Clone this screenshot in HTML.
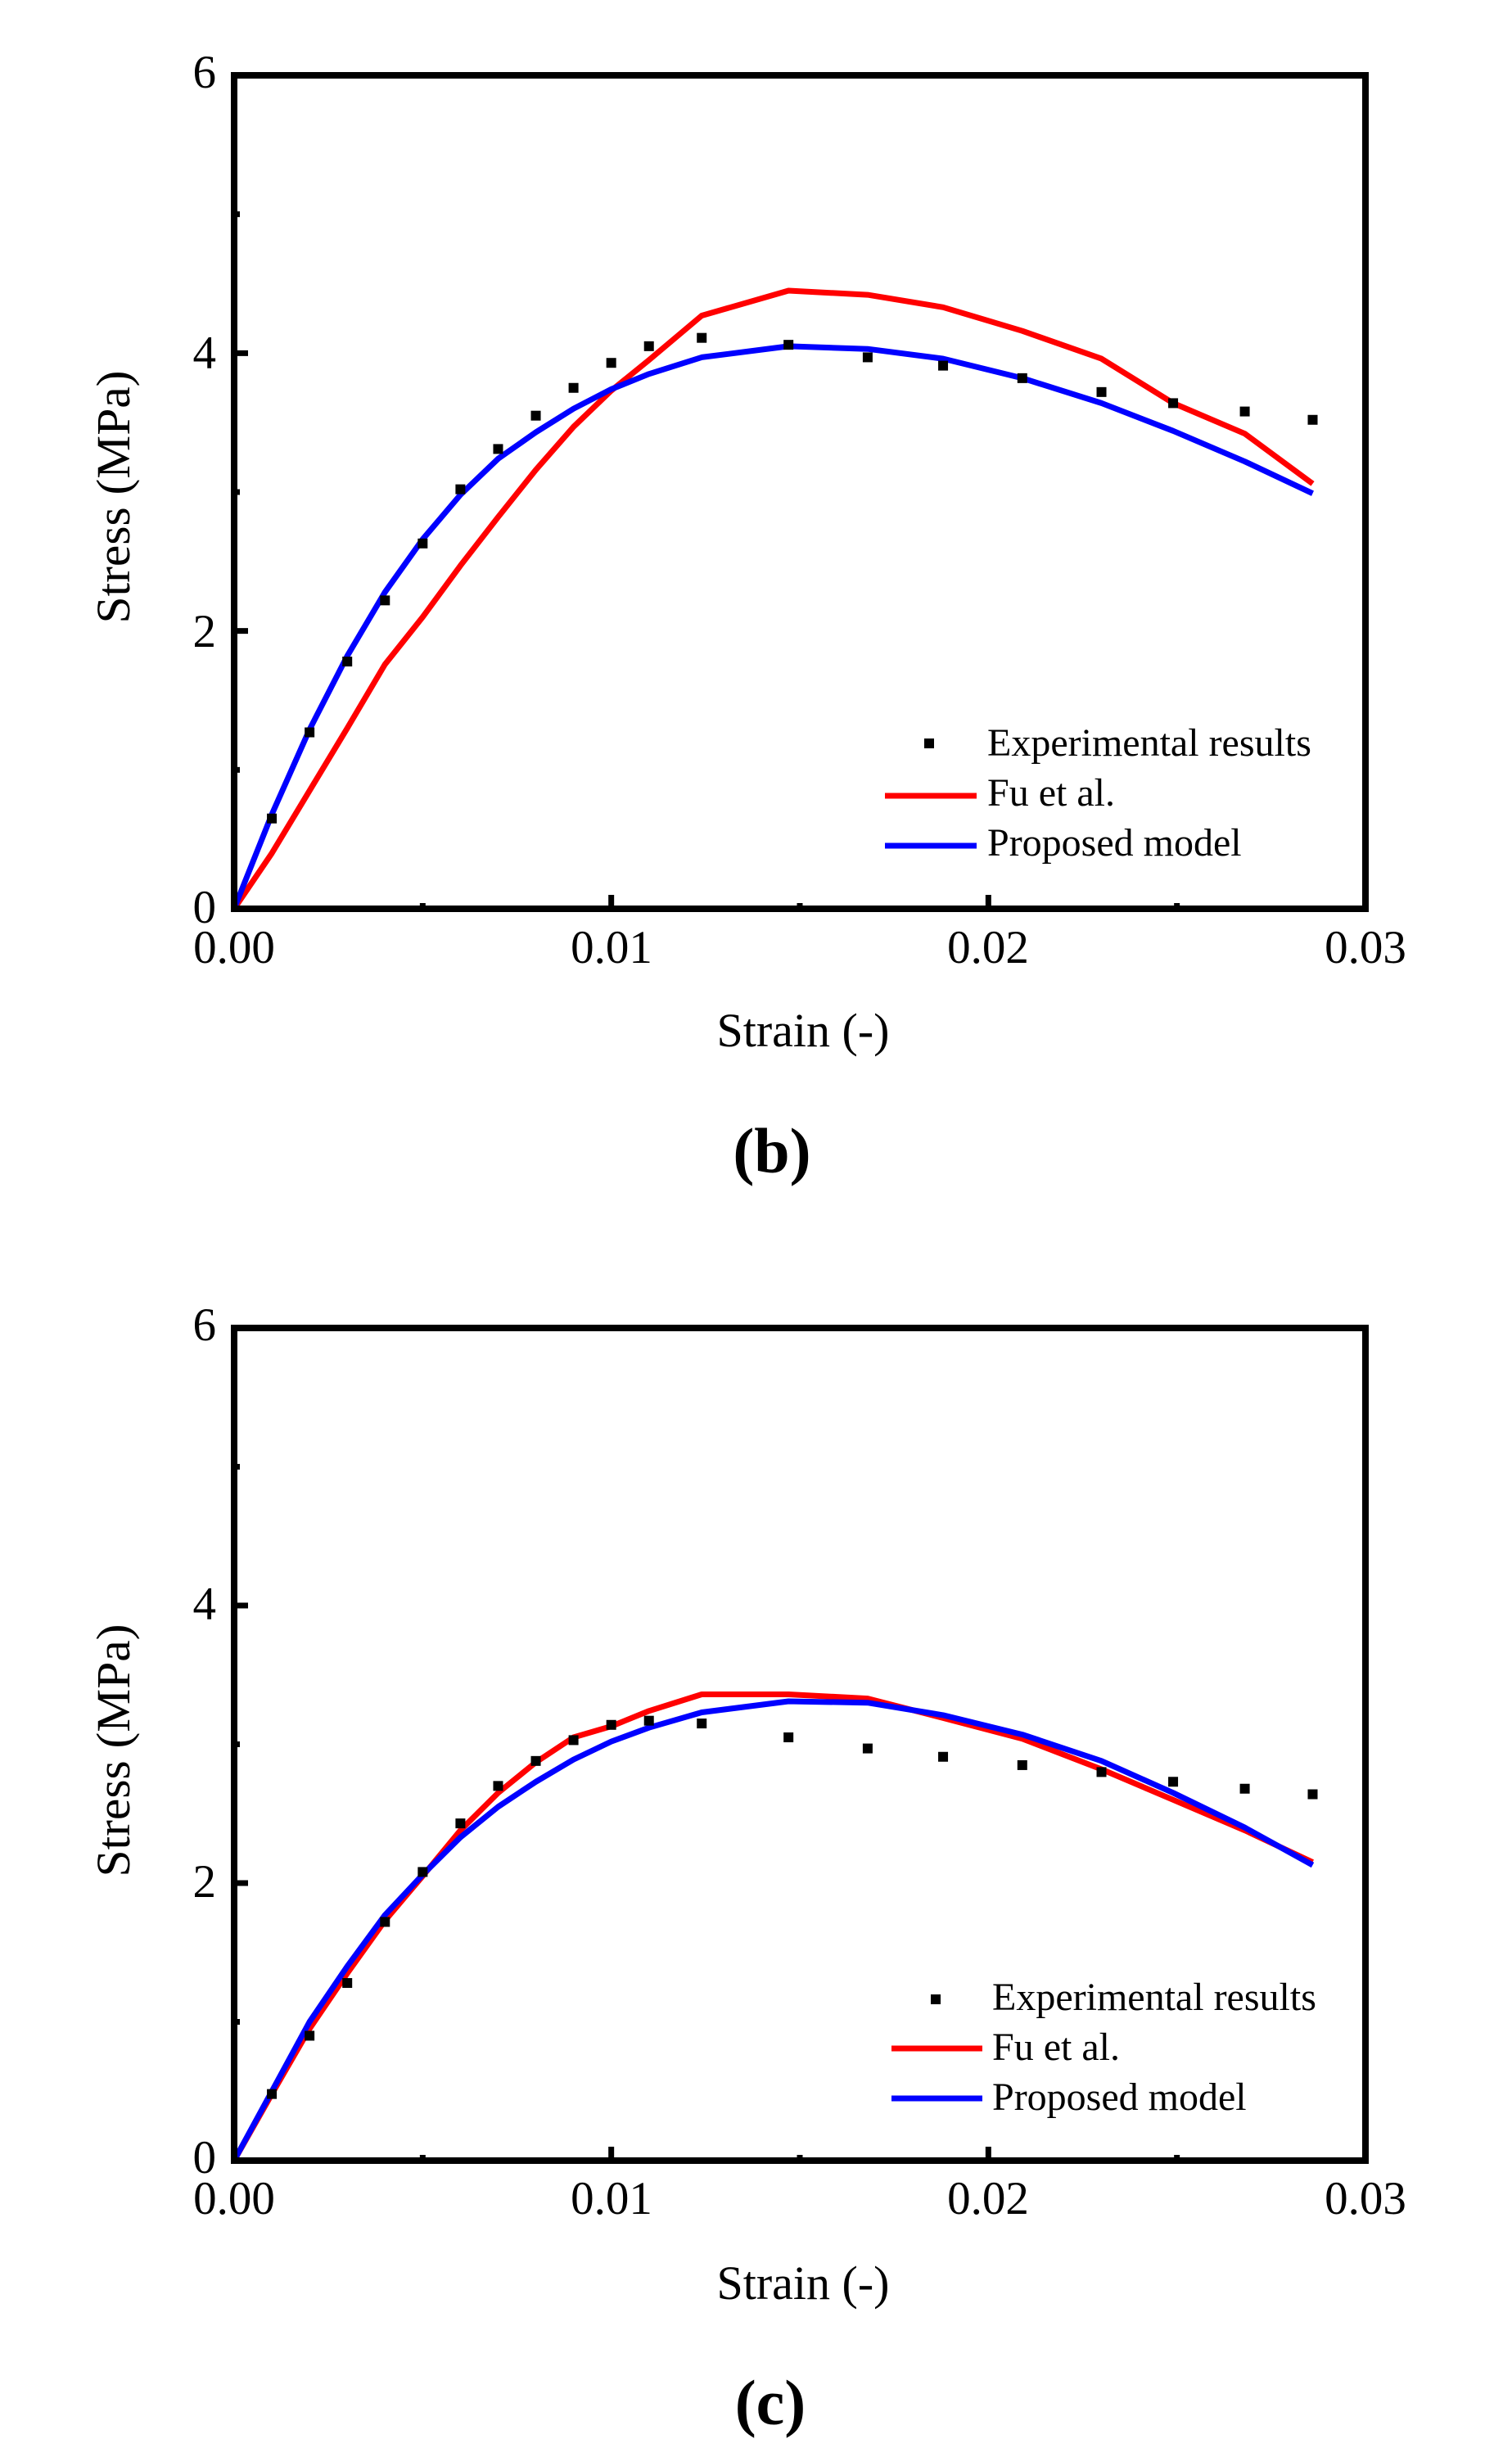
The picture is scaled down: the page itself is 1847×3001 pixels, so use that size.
<!DOCTYPE html>
<html><head><meta charset="utf-8"><style>
html,body{margin:0;padding:0;background:#fff}
svg{display:block}
text{font-family:"Liberation Serif","Times New Roman",serif;fill:#000}
</style></head><body>
<svg id="s" width="1847" height="3001" viewBox="0 0 1847 3001" xmlns="http://www.w3.org/2000/svg">
<rect width="1847" height="3001" fill="#fff"/>
<g id="g1"></g>
<g id="g2"></g>
<!-- Plot b labels -->
<g font-size="57">
<text x="264" y="107" text-anchor="end">6</text>
<text x="264" y="450" text-anchor="end">4</text>
<text x="264" y="790" text-anchor="end">2</text>
<text x="264" y="1127" text-anchor="end">0</text>
<text x="286" y="1176" text-anchor="middle">0.00</text>
<text x="747" y="1176" text-anchor="middle">0.01</text>
<text x="1207" y="1176" text-anchor="middle">0.02</text>
<text x="1668" y="1176" text-anchor="middle">0.03</text>
</g>
<text x="981" y="1278" font-size="58" text-anchor="middle">Strain (-)</text>
<text transform="translate(158,607) rotate(-90)" font-size="58" text-anchor="middle" textLength="309" lengthAdjust="spacingAndGlyphs">Stress (MPa)</text>
<text x="943" y="1432" font-size="78" font-weight="bold" text-anchor="middle">(b)</text>
<g font-size="48">
<text x="1206" y="923">Experimental results</text>
<text x="1206" y="984">Fu et al.</text>
<text x="1206" y="1045">Proposed model</text>
</g>
<rect x="1129" y="902" width="12" height="12" fill="#000"/>
<line x1="1081" y1="972" x2="1193" y2="972" stroke="#f00" stroke-width="7"/>
<line x1="1081" y1="1033" x2="1193" y2="1033" stroke="#00f" stroke-width="7"/>
<!-- Plot c labels -->
<g font-size="57">
<text x="264" y="1637" text-anchor="end">6</text>
<text x="264" y="1978" text-anchor="end">4</text>
<text x="264" y="2317" text-anchor="end">2</text>
<text x="264" y="2654" text-anchor="end">0</text>
<text x="286" y="2704" text-anchor="middle">0.00</text>
<text x="747" y="2704" text-anchor="middle">0.01</text>
<text x="1207" y="2704" text-anchor="middle">0.02</text>
<text x="1668" y="2704" text-anchor="middle">0.03</text>
</g>
<text x="981" y="2808" font-size="58" text-anchor="middle">Strain (-)</text>
<text transform="translate(158,2138) rotate(-90)" font-size="58" text-anchor="middle" textLength="309" lengthAdjust="spacingAndGlyphs">Stress (MPa)</text>
<text x="941" y="2961" font-size="78" font-weight="bold" text-anchor="middle">(c)</text>
<g font-size="48">
<text x="1212" y="2455">Experimental results</text>
<text x="1212" y="2516">Fu et al.</text>
<text x="1212" y="2577">Proposed model</text>
</g>
<rect x="1137" y="2436" width="12" height="12" fill="#000"/>
<line x1="1089" y1="2502" x2="1200" y2="2502" stroke="#f00" stroke-width="7"/>
<line x1="1089" y1="2563" x2="1200" y2="2563" stroke="#00f" stroke-width="7"/>
</svg>
<script>
var NS="http://www.w3.org/2000/svg";
function el(p,t,a){var e=document.createElementNS(NS,t);for(var k in a)e.setAttribute(k,a[k]);p.appendChild(e);return e;}
function plot(gid,top,bot,exp,red,blue){
 var g=document.getElementById(gid),L=286,R=1668,ky=(bot-top)/6,kx=(R-L)/0.03;
 function X(x){return L+kx*x} function Y(y){return bot-ky*y}
 function pts(a){return a.map(function(p){return X(p[0]).toFixed(1)+","+Y(p[1]).toFixed(1)}).join(" ")}
 el(g,"polyline",{points:pts(red),fill:"none",stroke:"#f00","stroke-width":7,"stroke-linejoin":"round"});
 el(g,"polyline",{points:pts(blue),fill:"none",stroke:"#00f","stroke-width":7,"stroke-linejoin":"round"});
 exp.forEach(function(p){el(g,"rect",{x:X(p[0])-6,y:Y(p[1])-6,width:12,height:12,fill:"#000"})});
 for(var i=1;i<6;i++){var len=(i%2==0)?17:7;el(g,"line",{x1:L,y1:Y(i),x2:L+len,y2:Y(i),stroke:"#000","stroke-width":7});}
 for(var j=1;j<6;j++){var len2=(j%2==0)?17:7;var xx=X(j*0.005);el(g,"line",{x1:xx,y1:bot,x2:xx,y2:bot-len2,stroke:"#000","stroke-width":7});}
 el(g,"rect",{x:L,y:top,width:R-L,height:bot-top,fill:"none",stroke:"#000","stroke-width":8});
}
var xs=[0.001,0.002,0.003,0.004,0.005,0.006,0.007,0.008,0.009,0.010,0.011,0.0124,0.0147,0.0168,0.0188,0.0209,0.023,0.0249,0.0268,0.0286];
function z(v){return xs.map(function(x,i){return [x,v[i]]})}
function z0(v){return [[0,0]].concat(z(v))}
plot("g1",92,1110,
 z([0.65,1.27,1.78,2.22,2.63,3.02,3.31,3.55,3.75,3.93,4.05,4.11,4.06,3.97,3.91,3.82,3.72,3.64,3.58,3.52]),
 z0([0.4,0.85,1.3,1.76,2.1,2.47,2.82,3.16,3.47,3.73,3.95,4.27,4.45,4.42,4.33,4.16,3.96,3.64,3.42,3.06]),
 z0([0.68,1.29,1.82,2.28,2.66,2.98,3.24,3.43,3.6,3.74,3.85,3.97,4.05,4.03,3.96,3.82,3.64,3.44,3.22,2.99]));
plot("g2",1622,2639,
 z([0.48,0.9,1.28,1.72,2.08,2.43,2.7,2.88,3.03,3.14,3.17,3.15,3.05,2.97,2.91,2.85,2.8,2.73,2.68,2.64]),
 z0([0.48,0.95,1.35,1.73,2.05,2.38,2.65,2.87,3.05,3.13,3.24,3.36,3.36,3.33,3.19,3.04,2.82,2.6,2.38,2.15]),
 z0([0.5,1.0,1.4,1.77,2.06,2.33,2.55,2.73,2.89,3.02,3.12,3.23,3.31,3.3,3.21,3.07,2.88,2.65,2.4,2.13]));
</script>
</body></html>
